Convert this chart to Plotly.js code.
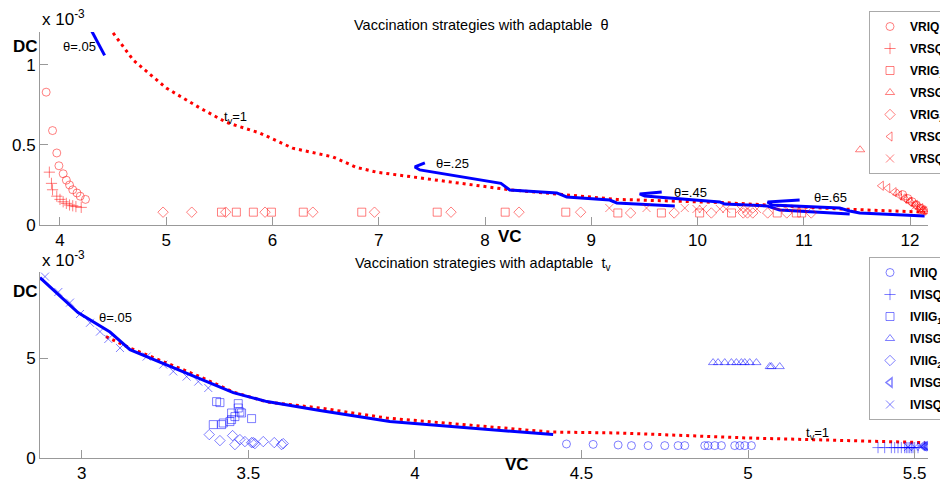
<!DOCTYPE html>
<html>
<head>
<meta charset="utf-8">
<script src="https://cdn.plot.ly/plotly-3.0.1.min.js"></script>
<style>html,body{margin:0;padding:0;background:#fff}#chart{width:940px;height:479px}</style>
</head>
<body>
<div id="chart"></div>
<script>
// ---------- DATA (DC values in units of 1e-3) ----------
// Top panel: adaptable theta
const topTvLineVC = [4.50,4.69,4.85,5.00,5.32,5.57,5.88,6.19,6.57,6.79,6.98,7.57,8.23,8.73,9.24,10.24,11.34,12.14];
const topTvLineDC = [1.20,1.03,0.94,0.856,0.73,0.64,0.575,0.48,0.425,0.36,0.33,0.28,0.22,0.19,0.16,0.14,0.10,0.08];

const th05VC = [4.30,4.42];
const th05DC = [1.21,1.06];
const th25VC = [7.434,7.340,7.387,8.073,8.15,8.233,8.675,8.769,9.174,9.240,9.786];
const th25DC = [0.3875,0.3625,0.344,0.269,0.26,0.219,0.200,0.175,0.156,0.1375,0.119];
const th45VC = [9.663,9.456,9.503,10.209,10.256,10.651,10.773,11.432];
const th45DC = [0.206,0.194,0.181,0.144,0.131,0.119,0.094,0.069];
const th65VC = [10.961,10.660,10.698,11.338,11.432,11.526,12.137];
const th65DC = [0.156,0.144,0.125,0.106,0.0875,0.075,0.056];

const vriqVC = [3.87,3.93,3.97,3.99,4.03,4.06,4.09,4.12,4.16,4.19,4.24,11.93,11.98,12.02,12.06,12.10,12.13];
const vriqDC = [0.83,0.59,0.45,0.37,0.32,0.28,0.25,0.22,0.20,0.18,0.16,0.19,0.165,0.145,0.125,0.105,0.09];
const vrsq1VC = [3.90,3.92,3.93,3.97,4.00,4.03,4.06,4.09,4.12,4.15,4.20];
const vrsq1DC = [0.33,0.26,0.22,0.18,0.16,0.145,0.135,0.125,0.12,0.115,0.11];
const vrig1VC = [5.52,5.66,5.82,5.99,6.29,6.84,7.55,8.19,8.76,9.25,9.66,10.02,10.32,10.75,10.93,10.98];
const vrig1DC = [0.08,0.08,0.08,0.08,0.08,0.08,0.08,0.08,0.08,0.075,0.075,0.075,0.075,0.075,0.075,0.075];
const vrsg1VC = [11.53,11.88,11.95,12.00,12.05,12.09,12.12,12.14];
const vrsg1DC = [0.47,0.20,0.17,0.15,0.13,0.11,0.095,0.085];
const vrig2VC = [4.97,5.24,5.56,5.93,6.38,6.96,7.68,8.32,8.90,9.37,9.78,10.13,10.43,10.47,10.52,10.66,10.84,11.07];
const vrig2DC = [0.08,0.08,0.08,0.08,0.08,0.08,0.08,0.08,0.08,0.075,0.075,0.075,0.075,0.075,0.075,0.075,0.075,0.075];
const vrsg2VC = [11.73,11.79,11.85,11.90,11.95,12.00,12.05,12.10,12.13];
const vrsg2DC = [0.245,0.23,0.205,0.185,0.165,0.145,0.125,0.105,0.09];
const vrsq2VC = [9.17,9.52,9.88,9.99,10.05,10.21,10.27,10.40,10.47,10.56,12.05,12.10,12.12];
const vrsq2DC = [0.106,0.106,0.106,0.10,0.10,0.10,0.10,0.10,0.10,0.10,0.12,0.10,0.09];

// Bottom panel: adaptable t_v
const botTvLineVC = [3.073,3.145,3.355,3.455,3.556,3.715,3.915,4.405,4.615,5.00,5.53];
const botTvLineDC = [6.07,5.50,4.07,3.30,2.80,2.50,2.00,1.30,1.25,1.00,0.77];
const botThLineVC = [2.875,2.989,3.085,3.145,3.455,3.556,3.715,3.925,4.415];
const botThLineDC = [9.02,7.27,6.30,5.42,3.27,2.82,2.37,1.82,1.17];

const iviiqVC = [4.455,4.535,4.61,4.65,4.70,4.75,4.79,4.81,4.87,4.88,4.90,4.92,4.96,4.975,4.99,5.01];
const iviiqDC = [0.70,0.68,0.65,0.62,0.62,0.62,0.62,0.62,0.62,0.62,0.62,0.62,0.62,0.62,0.62,0.62];
const ivisq1VC = [5.39,5.41,5.43,5.44,5.45,5.46,5.47,5.475,5.48,5.485,5.49,5.495,5.50,5.51];
const ivisq1DC = [0.52,0.52,0.52,0.52,0.52,0.52,0.52,0.52,0.52,0.52,0.52,0.52,0.52,0.52];
const iviig1VC = [3.405,3.415,3.47,3.47,3.475,3.48,3.45,3.46,3.45,3.445,3.42,3.425,3.51,3.395];
const iviig1DC = [2.82,2.77,2.72,2.50,2.30,2.25,2.25,2.07,1.92,1.82,1.67,1.75,1.97,1.67];
const ivisg1VC = [4.895,4.91,4.93,4.95,4.965,4.98,4.99,5.005,5.025,5.065,5.07,5.095];
const ivisg1DC = [4.77,4.77,4.77,4.77,4.77,4.77,4.77,4.77,4.77,4.57,4.57,4.57];
const iviig2VC = [3.383,3.415,3.453,3.46,3.475,3.49,3.51,3.515,3.52,3.545,3.578,3.60,3.605];
const iviig2DC = [1.17,0.87,1.12,0.67,0.92,0.82,0.77,0.77,0.72,0.82,0.77,0.67,0.72];
const ivisg2VC = [5.525,5.53,5.535,5.54];
const ivisg2DC = [0.60,0.58,0.60,0.57];
const ivisq2VC = [2.89,2.93,2.965,2.995,3.025,3.055,3.08,3.115,3.195,3.245,3.275,3.315,3.35,3.38,5.48,5.50,5.52];
const ivisq2DC = [9.07,8.30,7.77,7.20,6.76,6.32,5.95,5.50,5.07,4.67,4.33,4.07,3.82,3.50,0.55,0.55,0.58];

// ---------- STYLE ----------
const RED = 'rgba(255,0,0,0.5)';
const BLUE = 'rgba(0,0,255,0.5)';
const FONT = 'Liberation Sans, Arial, sans-serif';

function lineTr(x, y, color, dash, width, xa, ya) {
  return {x, y, type:'scatter', mode:'lines', xaxis:xa, yaxis:ya, showlegend:false, hoverinfo:'skip',
          line:{color, width, dash}};
}
let grp = 0;
function mk(x, y, name, symbol, color, xa, ya, legend, lw) {
  grp += 1;
  return {x, y, name, type:'scatter', mode:'markers', xaxis:xa, yaxis:ya, legend, legendgroup:'g' + grp,
          marker:{symbol, size:8, color, line:{color, width:lw||1}}};
}

const traces = [
  lineTr(topTvLineVC, topTvLineDC, '#ff0000', '3px,4px', 3, 'x', 'y'),
  lineTr(th05VC, th05DC, '#0000ff', 'solid', 3, 'x', 'y'),
  lineTr(th25VC, th25DC, '#0000ff', 'solid', 3, 'x', 'y'),
  lineTr(th45VC, th45DC, '#0000ff', 'solid', 3, 'x', 'y'),
  lineTr(th65VC, th65DC, '#0000ff', 'solid', 3, 'x', 'y'),
  mk(vriqVC, vriqDC, 'VRIQ', 'circle-open', RED, 'x', 'y', 'legend'),
  mk(vrsq1VC, vrsq1DC, 'VRSQ<sub>1</sub>', 'cross-thin-open', RED, 'x', 'y', 'legend'),
  mk(vrig1VC, vrig1DC, 'VRIG<sub>1</sub>', 'square-open', RED, 'x', 'y', 'legend'),
  mk(vrsg1VC, vrsg1DC, 'VRSG<sub>1</sub>', 'triangle-up-open', RED, 'x', 'y', 'legend'),
  mk(vrig2VC, vrig2DC, 'VRIG<sub>2</sub>', 'diamond-open', RED, 'x', 'y', 'legend'),
  mk(vrsg2VC, vrsg2DC, 'VRSG<sub>2</sub>', 'triangle-left-open', RED, 'x', 'y', 'legend'),
  mk(vrsq2VC, vrsq2DC, 'VRSQ<sub>2</sub>', 'x-thin-open', RED, 'x', 'y', 'legend'),

  lineTr(botTvLineVC, botTvLineDC, '#ff0000', '3px,4px', 3, 'x2', 'y2'),
  lineTr(botThLineVC, botThLineDC, '#0000ff', 'solid', 3, 'x2', 'y2'),
  mk(iviiqVC, iviiqDC, 'IVIIQ', 'circle-open', BLUE, 'x2', 'y2', 'legend2'),
  mk(ivisq1VC, ivisq1DC, 'IVISQ<sub>1</sub>', 'cross-thin-open', BLUE, 'x2', 'y2', 'legend2'),
  mk(iviig1VC, iviig1DC, 'IVIIG<sub>1</sub>', 'square-open', BLUE, 'x2', 'y2', 'legend2'),
  mk(ivisg1VC, ivisg1DC, 'IVISG<sub>1</sub>', 'triangle-up-open', BLUE, 'x2', 'y2', 'legend2'),
  mk(iviig2VC, iviig2DC, 'IVIIG<sub>2</sub>', 'diamond-open', BLUE, 'x2', 'y2', 'legend2'),
  mk(ivisg2VC, ivisg2DC, 'IVISG<sub>2</sub>', 'triangle-left-open', BLUE, 'x2', 'y2', 'legend2', 1.5),
  mk(ivisq2VC, ivisq2DC, 'IVISQ<sub>2</sub>', 'x-thin-open', BLUE, 'x2', 'y2', 'legend2')
];

// pixel -> paper helpers (plot area: x 40..928, y 32..458)
const PX = p => (p - 40) / 888;
const PY = p => (458 - p) / 426;
function ann(text, px, py, size, bold, xanchor) {
  return {text: bold ? '<b>' + text + '</b>' : text, x: PX(px), y: PY(py), xref:'paper', yref:'paper',
          showarrow:false, xanchor: xanchor || 'center', yanchor:'middle',
          font:{family:FONT, size, color:'#000'}};
}

const axisCommon = {
  showgrid:false, zeroline:false, showline:true, linecolor:'#999', linewidth:1,
  ticks:'inside', ticklen:8, tickcolor:'#999', tickfont:{family:FONT, size:17, color:'#000'}
};

const legendCommon = {
  bgcolor:'#fff', bordercolor:'#aaa', borderwidth:1, xref:'paper', yref:'paper',
  xanchor:'left', yanchor:'top', font:{family:FONT, size:12, color:'#000', weight:'bold'},
  itemwidth:30, tracegroupgap:3
};

const layout = {
  width:940, height:479,
  margin:{l:40, r:12, t:32, b:21, autoexpand:false},
  paper_bgcolor:'#fff', plot_bgcolor:'#fff',
  showlegend:true,
  xaxis: Object.assign({}, axisCommon, {domain:[0,1], range:[3.812,12.169], anchor:'y',
         tickvals:[4,5,6,7,8,9,10,11,12]}),
  yaxis: Object.assign({}, axisCommon, {domain:[0.547,1], range:[0,1.206], anchor:'x',
         tickvals:[0,0.5,1], ticktext:['0','0.5','1']}),
  xaxis2: Object.assign({}, axisCommon, {domain:[0,1], range:[2.875,5.54], anchor:'y2',
         tickvals:[3,3.5,4,4.5,5,5.5]}),
  yaxis2: Object.assign({}, axisCommon, {domain:[0,0.4366], range:[0,9.3], anchor:'x2',
         tickvals:[0,5]}),
  legend: Object.assign({}, legendCommon, {x:PX(869), y:PY(11)}),
  legend2: Object.assign({}, legendCommon, {x:PX(869), y:PY(257)}),
  annotations: [
    ann('Vaccination strategies with adaptable  θ', 481, 25, 14.5),
    ann('Vaccination strategies with adaptable  t<sub>v</sub>', 483, 264, 14.5),
    ann('x 10<sup>-3</sup>', 40, 18, 17, false, 'left'),
    ann('x 10<sup>-3</sup>', 40, 259, 17, false, 'left'),
    ann('DC', 25, 47, 17, true),
    ann('DC', 25, 292, 17, true),
    ann('VC', 510, 237, 17, true),
    ann('VC', 517, 464, 17, true),
    ann('θ=.05', 79, 47, 13),
    ann('t<sub>v</sub>=1', 235, 117, 13),
    ann('θ=.25', 452, 163, 13),
    ann('θ=.45', 690, 192, 13),
    ann('θ=.65', 830, 198, 13),
    ann('θ=.05', 115, 317, 13),
    ann('t<sub>v</sub>=1', 817, 433, 13)
  ]
};

Plotly.newPlot('chart', traces, layout, {staticPlot:true, displayModeBar:false});
</script>
</body>
</html>
